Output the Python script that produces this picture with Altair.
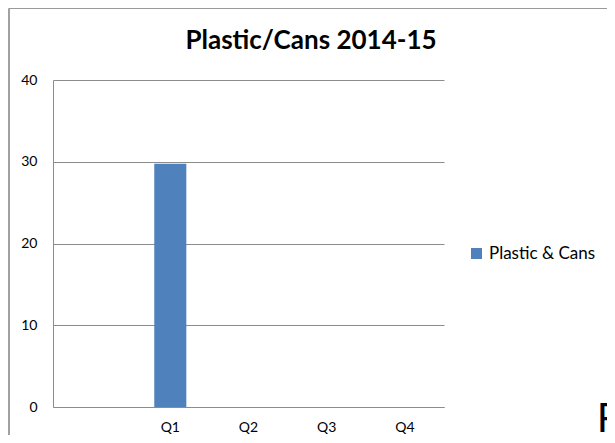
import altair as alt
import pandas as pd

categories = ["Q1", "Q2", "Q3", "Q4"]
values = [29.75, 0, 0, 0]
series = ["Plastic & Cans"] * 4
x_domain = [" ", "Q1", "Q2", "Q3", "Q4"]
y_ticks = [0, 10, 20, 30, 40]
title_text = ["Plastic/Cans 2014-15"]
corner_text = ["P"]

df = pd.DataFrame({"quarter": categories, "value": values, "series": series})

FONT = "Lato"
GRID = "#8c8c8c"

bars = alt.Chart(df).mark_bar(color="#4F81BD").encode(
    x=alt.X("quarter:N", scale=alt.Scale(domain=x_domain, paddingInner=0.59, paddingOuter=0.295),
            axis=alt.Axis(title=None, labelAngle=0, ticks=False, domainColor=GRID,
                          labelFont=FONT, labelFontSize=14, labelColor="#000000",
                          labelPadding=13, grid=False)),
    y=alt.Y("value:Q", scale=alt.Scale(domain=[0, 40], nice=False),
            axis=alt.Axis(title=None, values=y_ticks, ticks=False, domainColor=GRID,
                          gridColor=GRID, labelFont=FONT, labelFontSize=14,
                          labelColor="#000000", labelPadding=16)),
    color=alt.Color("series:N", scale=alt.Scale(range=["#4F81BD"]),
                    legend=alt.Legend(title=None, orient="none", legendX=415, legendY=165,
                                      symbolType="square", symbolSize=121,
                                      symbolStrokeWidth=0, labelFont=FONT,
                                      labelFontSize=17, labelColor="#000000",
                                      labelOffset=4)),
)

border_left = alt.Chart(df).mark_rule(color="#9a9a9a", strokeWidth=1, clip=False).encode(
    x=alt.value(-44), y=alt.value(-71.5), y2=alt.value(360))
border_top = alt.Chart(df).mark_rule(color="#9a9a9a", strokeWidth=1, clip=False).encode(
    x=alt.value(-44), x2=alt.value(600), y=alt.value(-71.5))

title = alt.Chart(pd.DataFrame({"t": title_text})).mark_text(
    font=FONT, fontSize=26, fontWeight="bold", align="center", baseline="middle",
    color="#000000", clip=False).encode(
    text="t:N", x=alt.value(258), y=alt.value(-39))

ptext = alt.Chart(pd.DataFrame({"t": corner_text})).mark_text(
    font="Liberation Sans", fontSize=42, align="left", baseline="alphabetic",
    color="#000000", clip=False).encode(
    text="t:N", x=alt.value(544), y=alt.value(352))

chart = alt.layer(bars, border_left, border_top, title, ptext).properties(
    width=391, height=327,
    autosize="none",
    padding={"left": 45, "top": 72, "right": 163, "bottom": 28},
).configure_view(stroke=None).configure_axis(gridColor=GRID)

chart.save("out.html", embed_options={"renderer": "svg", "actions": False})
